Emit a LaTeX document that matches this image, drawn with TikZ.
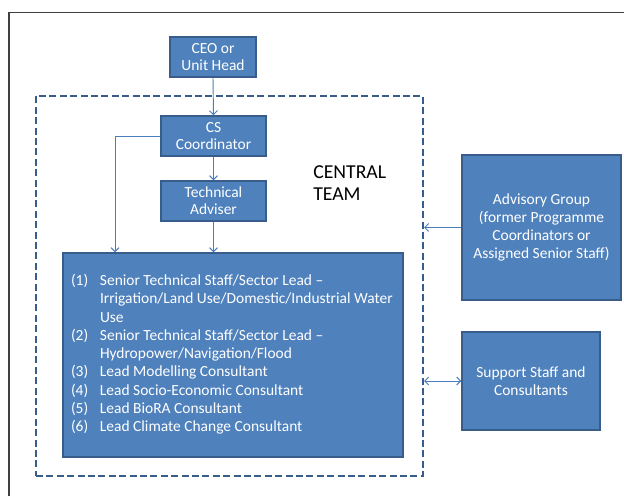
\documentclass[tikz,border=0pt]{standalone}
\usepackage{fontspec}
\setmainfont{Carlito}
\usetikzlibrary{arrows.meta}
\definecolor{boxfill}{HTML}{4F81BD}
\definecolor{boxline}{HTML}{385D8A}
\definecolor{arrcol}{HTML}{4A7EBB}
\definecolor{framecol}{HTML}{404040}
\tikzset{
  box/.style={draw=boxline, line width=1.1pt, fill=boxfill, text=white,
    align=center, inner sep=0pt, font=\fontsize{11.6}{13}\selectfont},
  teambox/.style={draw=boxline, line width=1.5pt, dash pattern=on 5.2pt off 2.6pt,
    inner sep=0pt},
  arr/.style={draw=arrcol, line width=0.7pt, -{Straight Barb[length=3pt,width=6pt]}},
  darr/.style={draw=arrcol, line width=0.7pt, {Straight Barb[length=3pt,width=6pt]}-{Straight Barb[length=3pt,width=6pt]}},
}
\begin{document}
\begin{tikzpicture}[x=0.75pt,y=-0.75pt]
\useasboundingbox (0,0) rectangle (624,496);
% outer frame
\draw[framecol, line width=1.1pt] (9,496) -- (9,12.5) -- (624,12.5);

\node[teambox, minimum width=387*0.75pt, minimum height=380*0.75pt] (team) at (229.5,286) {};

\node[box, minimum width=86*0.75pt, minimum height=40*0.75pt] (ceo) at (213,57) {CEO or\\Unit Head};
\node[box, minimum width=105*0.75pt, minimum height=40*0.75pt] (cs) at (213.5,136) {CS\\Coordinator};
\node[box, minimum width=105*0.75pt, minimum height=40*0.75pt] (ta) at (213.5,201) {Technical\\Adviser};

\node[anchor=west, align=left, inner sep=0pt, font=\fontsize{14.8}{16.5}\selectfont] (central) at (313,183) {CENTRAL\\TEAM};

\node[box, minimum width=340*0.75pt, minimum height=204*0.75pt, align=left] (main) at (233,355) {%
\renewcommand{\arraystretch}{1}%
\fontsize{11.6}{13.7}\selectfont
\raisebox{-2.25pt}{\makebox[243pt][l]{\begin{tabular}{@{}p{21.75pt}@{}l@{}}
(1) & Senior Technical Staff/Sector Lead --\\
    & Irrigation/Land Use/Domestic/Industrial Water\\
    & Use\\
(2) & Senior Technical Staff/Sector Lead --\\
    & Hydropower/Navigation/Flood\\
(3) & Lead Modelling Consultant\\
(4) & Lead Socio-Economic Consultant\\
(5) & Lead BioRA Consultant\\
(6) & Lead Climate Change Consultant
\end{tabular}}}};

\node[box, minimum width=159*0.75pt, minimum height=145*0.75pt, font=\fontsize{11.6}{13.5}\selectfont] (adv) at (541.5,227.5) {Advisory Group\\(former Programme\\Coordinators or\\Assigned Senior Staff)};
\node[box, minimum width=138*0.75pt, minimum height=98*0.75pt, font=\fontsize{11.6}{13.5}\selectfont] (sup) at (531,381) {Support Staff and\\Consultants};

\coordinate (tapx) at (115,0);

\draw[arr] (ceo.south) -- (cs.north);
\draw[arr] (cs.south) -- (ta.north);
\draw[arr] (ta.south) -- (ta.south |- main.north);
\draw[arr] (cs.west) -| (tapx |- main.north);
\draw[arr] (adv.west) -- (adv.west -| team.east);
\draw[darr] (sup.west -| team.east) -- (sup.west);
\end{tikzpicture}
\end{document}
